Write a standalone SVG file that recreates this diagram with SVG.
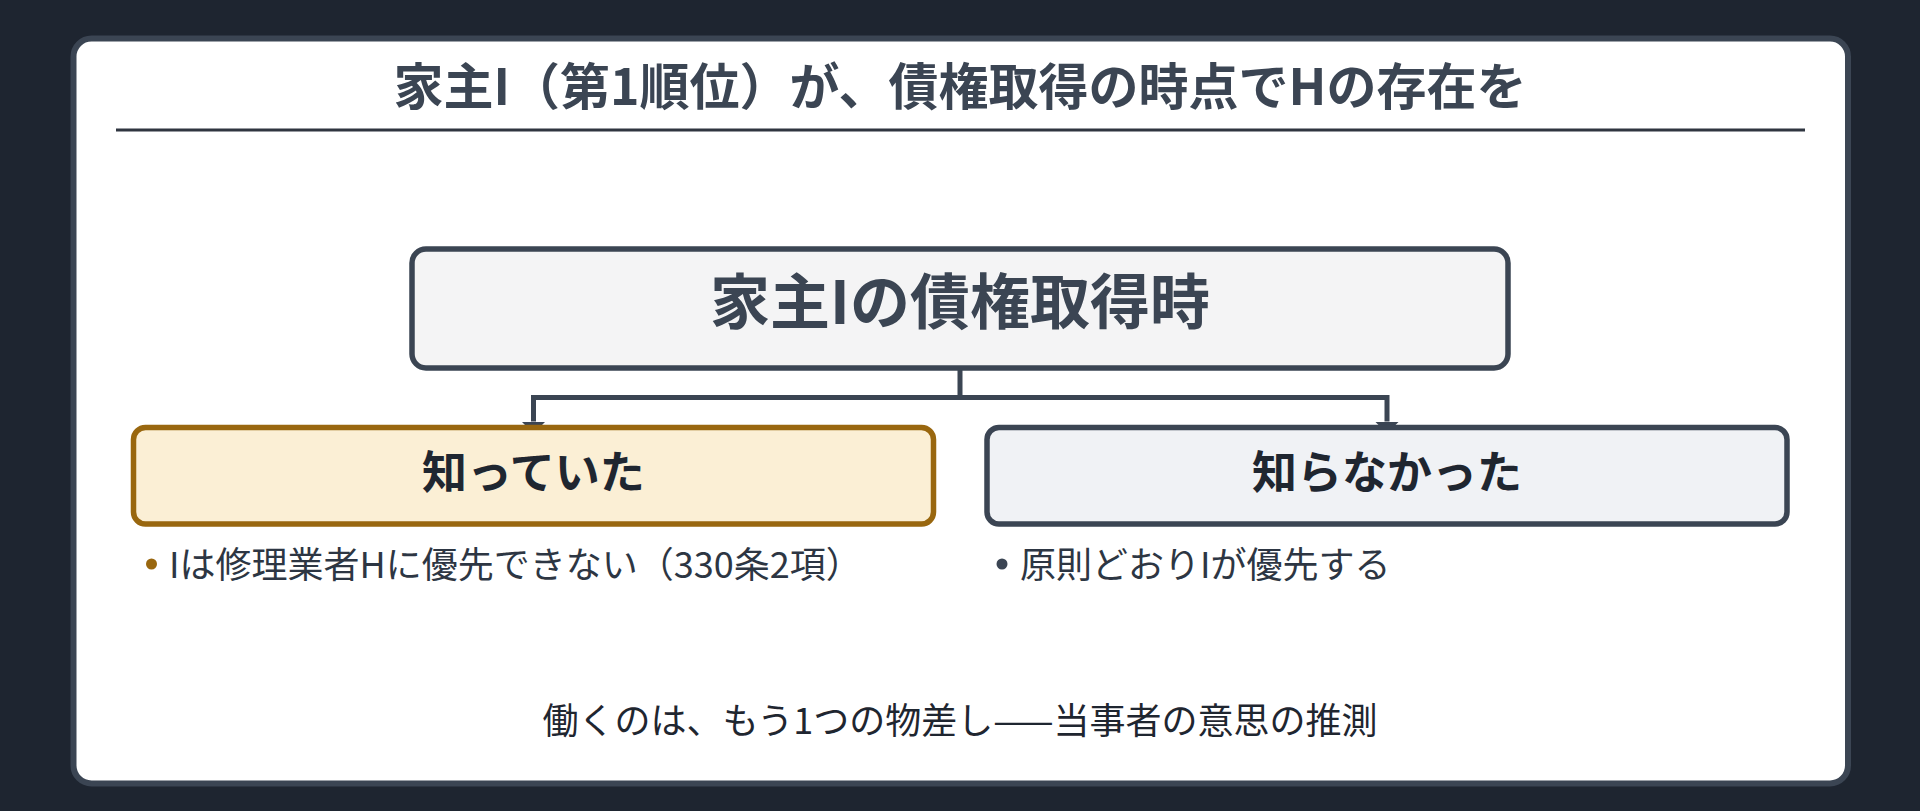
<svg xmlns="http://www.w3.org/2000/svg" width="1920" height="811" viewBox="0 0 1920 811">
  <defs>
    <style>
      .jp { font-family: "Noto Sans CJK JP", "Noto Sans", sans-serif; }
      .title { font-size: 50px; font-weight: 700; fill: #3b4553; }
      .root-text { font-size: 60px; font-weight: 700; fill: #3b4553; }
      .label { font-size: 45px; font-weight: 700; fill: #1f2630; }
      .bullet { font-size: 36px; font-weight: 400; fill: #2d3643; }
      .footer { font-size: 36px; font-weight: 400; fill: #1f2630; }
      .conn { fill: none; stroke: #3b4553; stroke-width: 5; }
    </style>
    <marker id="arrow" viewBox="0 0 12 24" refX="0" refY="12" markerWidth="12" markerHeight="24" markerUnits="userSpaceOnUse" orient="auto">
      <path d="M0,0 L12,12 L0,24 z" fill="#3b4553"/>
    </marker>
  </defs>

  <rect x="0" y="0" width="1920" height="811" fill="#1e2530"/>

  <g id="card">
    <rect x="73.5" y="38.5" width="1774.5" height="745" rx="18" fill="#ffffff" stroke="#3b4553" stroke-width="6"/>
    <text class="jp title" x="960" y="104.5" text-anchor="middle">家主I（第1順位）が、債権取得の時点でHの存在を</text>
    <line x1="116" y1="130" x2="1805" y2="130" stroke="#2f3540" stroke-width="3"/>
  </g>

  <g id="connectors">
    <path class="conn" d="M960,370 V397.5 H533.5 V421.5" marker-end="url(#arrow)"/>
    <path class="conn" d="M960,397.5 H1387 V421.5" marker-end="url(#arrow)"/>
  </g>

  <g id="node-root">
    <rect x="412" y="249" width="1096" height="119" rx="14" fill="#f4f4f5" stroke="#3b4553" stroke-width="5.5"/>
    <text class="jp root-text" x="960" y="324" text-anchor="middle">家主Iの債権取得時</text>
  </g>

  <g id="node-knew">
    <rect x="133.5" y="427.5" width="800" height="96.5" rx="12" fill="#fbefd5" stroke="#99670f" stroke-width="5.5"/>
    <text class="jp label" x="533.5" y="488.5" text-anchor="middle">知っていた</text>
    <circle cx="151.5" cy="564" r="5.5" fill="#99670f"/>
    <text class="jp bullet" x="169" y="577.5">Iは修理業者Hに優先できない（330条2項）</text>
  </g>

  <g id="node-didnt-know">
    <rect x="987" y="427.5" width="800" height="96.5" rx="12" fill="#f0f2f5" stroke="#3b4553" stroke-width="5.5"/>
    <text class="jp label" x="1387" y="488.5" text-anchor="middle">知らなかった</text>
    <circle cx="1002" cy="564" r="5.5" fill="#3b4553"/>
    <text class="jp bullet" x="1020" y="577.5">原則どおりIが優先する</text>
  </g>

  <g id="footer">
    <text class="jp footer" x="960" y="734" text-anchor="middle">働くのは、もう1つの物差し——当事者の意思の推測</text>
  </g>
</svg>
